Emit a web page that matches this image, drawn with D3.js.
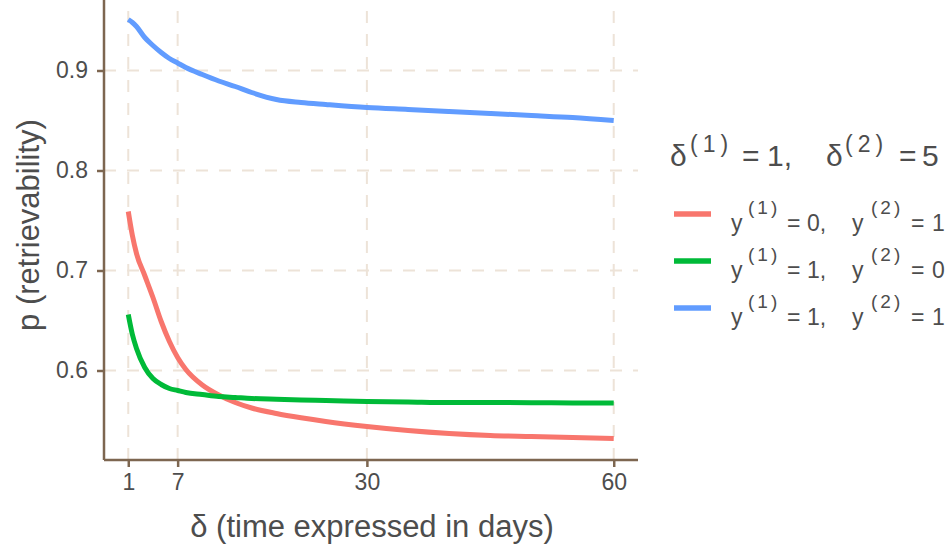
<!DOCTYPE html>
<html>
<head>
<meta charset="utf-8">
<script src="https://cdn.jsdelivr.net/npm/d3@7"></script>
<style>
  body { margin: 0; background: #fff; }
  svg { font-family: "Liberation Sans", Arial, sans-serif; }
</style>
</head>
<body>
<svg width="949" height="552"></svg>
<script>
// data
var days = [1, 1.5, 2, 3, 4, 5, 6, 7, 8, 10, 12, 14, 16, 19, 22, 25, 30, 35, 40, 45, 50, 55, 60];
var red = [0.759, 0.735, 0.717, 0.695, 0.673, 0.649, 0.629, 0.613, 0.601, 0.5855, 0.5755, 0.568, 0.5625, 0.557, 0.5527, 0.549, 0.544, 0.540, 0.537, 0.535, 0.534, 0.533, 0.532];
var green = [0.656, 0.636, 0.622, 0.603, 0.592, 0.586, 0.582, 0.580, 0.578, 0.576, 0.574, 0.573, 0.572, 0.5712, 0.5705, 0.570, 0.569, 0.5685, 0.568, 0.568, 0.5678, 0.5676, 0.5675];
var blue = [0.951, 0.948, 0.944, 0.933, 0.925, 0.918, 0.912, 0.9075, 0.903, 0.896, 0.8895, 0.884, 0.878, 0.871, 0.868, 0.866, 0.863, 0.861, 0.859, 0.857, 0.855, 0.853, 0.850];
var xTicks = [1, 7, 30, 60];
var yTicks = [0.6, 0.7, 0.8, 0.9];
var legendLabels = [["0", "1"], ["1", "0"], ["1", "1"]];
var colors = ["#F8766D", "#00BA38", "#619CFF"];

var svg = d3.select("svg"),
    margin = {top: 0, right: 311, bottom: 92, left: 104},
    width = 949 - margin.left - margin.right,
    height = 552 - margin.top - margin.bottom;

var x = d3.scaleLinear().domain([-1.95, 62.95]).range([0, width]),
    y = d3.scaleLinear().domain([0.5105, 0.9705]).range([height, 0]);

var g = svg.append("g")
    .attr("transform", "translate(" + margin.left + "," + margin.top + ")");

var gridColor = "#ede3d8", axisColor = "#7d6650", textColor = "#4d4d4d";

// grid lines
g.selectAll(".hgrid").data(yTicks).enter().append("line")
    .attr("x1", 0).attr("x2", width)
    .attr("y1", function (d) { return y(d); })
    .attr("y2", function (d) { return y(d); })
    .attr("stroke", gridColor).attr("stroke-width", 2)
    .attr("stroke-dasharray", "12,11");

g.selectAll(".vgrid").data(xTicks).enter().append("line")
    .attr("y1", height).attr("y2", 0)
    .attr("x1", function (d) { return x(d); })
    .attr("x2", function (d) { return x(d); })
    .attr("stroke", gridColor).attr("stroke-width", 2)
    .attr("stroke-dasharray", "12,11");

// curves
var series = [red, green, blue];
var line = d3.line()
    .x(function (d, i) { return x(days[i]); })
    .y(function (d) { return y(d); })
    .curve(d3.curveMonotoneX);

g.selectAll(".curve").data(series).enter().append("path")
    .attr("d", line)
    .attr("fill", "none")
    .attr("stroke", function (d, i) { return colors[i]; })
    .attr("stroke-width", 5);

// axes
var xAxis = g.append("g")
    .attr("transform", "translate(0," + height + ")")
    .call(d3.axisBottom(x).tickValues(xTicks).tickSize(7).tickPadding(7).tickSizeOuter(0));
var yAxis = g.append("g")
    .call(d3.axisLeft(y).tickValues(yTicks).tickSize(7).tickPadding(9).tickFormat(d3.format(".1f")).tickSizeOuter(0));

[xAxis, yAxis].forEach(function (a) {
    a.select(".domain").attr("stroke", axisColor).attr("stroke-width", 2.5);
    a.selectAll(".tick line").attr("stroke", axisColor).attr("stroke-width", 2.5);
    a.selectAll(".tick text").attr("fill", textColor)
        .attr("font-size", 23).attr("font-family", "Liberation Sans, Arial, sans-serif");
});
xAxis.select(".domain").attr("d", "M0,0H" + width);
yAxis.select(".domain").attr("d", "M0," + height + "V0");

// axis titles
svg.append("text")
    .attr("x", 372).attr("y", 537)
    .attr("text-anchor", "middle").attr("fill", textColor)
    .style("font-size", "31px")
    .text("δ (time expressed in days)");

svg.append("text")
    .attr("transform", "translate(39,225) rotate(-90)")
    .attr("text-anchor", "middle").attr("fill", textColor)
    .style("font-size", "31px")
    .text("p (retrievability)");

// legend
var leg = svg.append("g");

// helper: put pieces of a plotmath-like label at given x positions
function piece(parent, xx, yy, size, str, spacing) {
    parent.append("text").attr("x", xx).attr("y", yy)
        .attr("fill", textColor).style("font-size", size + "px")
        .style("letter-spacing", (spacing || 0) + "px")
        .text(str);
}

var tb = 166;
piece(leg, 670, tb, 30, "δ");
piece(leg, 690, tb - 14, 23, "(1)", 5);
piece(leg, 742, tb, 30, "=");
piece(leg, 767, tb, 30, "1,");
piece(leg, 826, tb, 30, "δ");
piece(leg, 845, tb - 14, 23, "(2)", 5);
piece(leg, 899, tb, 30, "=");
piece(leg, 922, tb, 30, "5");

legendLabels.forEach(function (lab, i) {
    var yy = 214 + i * 47, bl = yy + 17;
    leg.append("line")
        .attr("x1", 674).attr("x2", 711).attr("y1", yy).attr("y2", yy)
        .attr("stroke", colors[i]).attr("stroke-width", 5.5);
    piece(leg, 731, bl, 23, "y");
    piece(leg, 748, bl - 17, 19, "(1)", 3);
    piece(leg, 787, bl, 23, "=");
    piece(leg, 807, bl, 23, lab[0] + ",");
    piece(leg, 852, bl, 23, "y");
    piece(leg, 871, bl - 17, 19, "(2)", 3);
    piece(leg, 911, bl, 23, "=");
    piece(leg, 932, bl, 23, lab[1]);
});
</script>
</body>
</html>
